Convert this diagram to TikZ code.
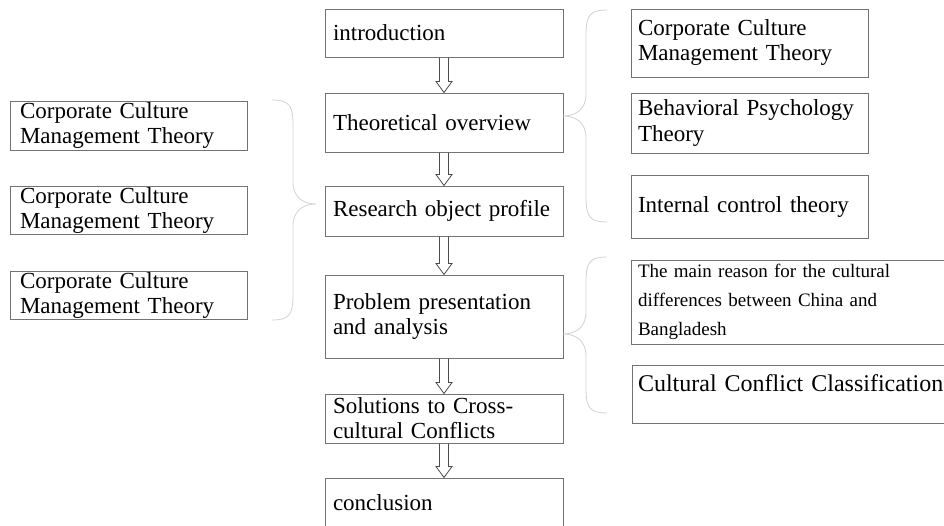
\documentclass[tikz,border=0pt]{standalone}
\usepackage{fontspec}
\setmainfont{Liberation Serif}
\usepackage{tikz}

\newcommand{\mainsize}{\fontsize{23}{25}\selectfont}
\newcommand{\hollowarrow}[2]{%
  \draw[arrowline] ([xshift=-4.5pt]#1.south) -- ([xshift=-4.5pt,yshift=11pt]#2.north)
    -- ([xshift=-8pt,yshift=11pt]#2.north) -- (#2.north)
    -- ([xshift=8pt,yshift=11pt]#2.north) -- ([xshift=4.5pt,yshift=11pt]#2.north)
    -- ([xshift=4.5pt]#1.south);}
% tip x, tip y, top y, bottom y, side (1: arms to the right, -1: arms to the left)
\newcommand{\curlybrace}[5]{%
  \draw[bracegray] ({#1+44*#5},#3) .. controls ({#1+27*#5},#3) and ({#1+23*#5},{#3+5}) .. ({#1+23*#5},{#3+25})
    -- ({#1+23*#5},{#2-22}) .. controls ({#1+23*#5},{#2-6}) and ({#1+12*#5},#2) .. (#1,#2)
    .. controls ({#1+12*#5},#2) and ({#1+23*#5},{#2+6}) .. ({#1+23*#5},{#2+22})
    -- ({#1+23*#5},{#4-25}) .. controls ({#1+23*#5},{#4-5}) and ({#1+27*#5},#4) .. ({#1+44*#5},#4);}

\begin{document}
\begin{tikzpicture}[x=1pt,y=-1pt,
  cbox/.style={draw=black!55,line width=1pt,inner xsep=8pt,inner ysep=0pt,text width=222pt,align=left,font=\mainsize},
  lbox/.style={cbox,inner xsep=10pt,text width=217pt},
  rbox/.style={cbox,inner xsep=7pt,text width=223pt},
  arrowline/.style={draw=black!70,line width=0.8pt},
  bracegray/.style={draw=black!18,line width=0.8pt}]
\useasboundingbox (0,0) rectangle (944,525);
\clip (0,0) rectangle (944,525);

\node[cbox,minimum height=48pt] (intro) at (444,33) {introduction};
\node[cbox,minimum height=59pt] (theo) at (444,122.5) {Theoretical overview};
\node[cbox,minimum height=50pt] (research) at (444,211) {Research object profile};
\node[cbox,minimum height=83pt] (problem) at (444,316.5) {Problem presentation\\and analysis};
\node[cbox,minimum height=49pt] (solution) at (444,418.5) {Solutions to Cross-\\cultural Conflicts};
\node[cbox,minimum height=50pt] (concl) at (444,503) {conclusion};

\node[lbox,minimum height=49pt] (left1) at (128.5,125.5) {Corporate Culture\\Management Theory};
\node[lbox,minimum height=48pt] (left2) at (128.5,210) {Corporate Culture\\Management Theory};
\node[lbox,minimum height=48pt] (left3) at (128.5,295) {Corporate Culture\\Management Theory};

\node[rbox,minimum height=68pt] (right1) at (749.5,43) {Corporate Culture\\Management Theory};
\node[rbox,minimum height=60pt] (right2) at (749.5,123) {Behavioral Psychology\\Theory};
\node[rbox,minimum height=63pt] (right3) at (749.5,206.5) {Internal control theory};
\node[rbox,text width=315pt,minimum height=84pt,font=\fontsize{19}{29}\selectfont] (right4) at (795.5,302)
  {The main reason for the cultural\\differences between China and\\Bangladesh};
\node[rbox,text width=315pt,inner xsep=6pt,minimum height=58pt,text depth=22pt,font=\fontsize{24}{27}\selectfont] (right5) at (795.5,394)
  {Cultural Conflict Classification};

\hollowarrow{intro}{theo}
\hollowarrow{theo}{research}
\hollowarrow{research}{problem}
\hollowarrow{problem}{solution}
\hollowarrow{solution}{concl}

\curlybrace{316}{204}{100}{320}{-1}
\curlybrace{563}{116}{10}{222}{1}
\curlybrace{563}{334}{257}{413}{1}
\end{tikzpicture}
\end{document}
